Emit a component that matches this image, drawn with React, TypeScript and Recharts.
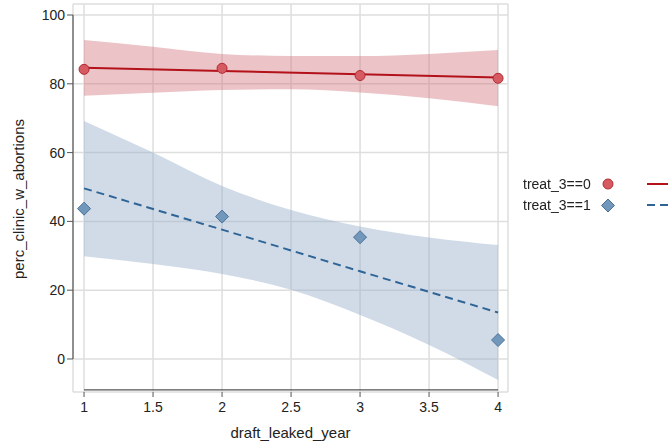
import {
  ComposedChart,
  Area,
  Line,
  Scatter,
  XAxis,
  YAxis,
  CartesianGrid,
  ReferenceLine,
} from "recharts"

// years used for the fitted line / confidence band
const bandYears = [1, 1.5, 2, 2.5, 3, 3.5, 4]
const band0Low = [76.5, 77.4, 78.2, 78.4, 77.5, 75.8, 73.5]
const band0High = [92.7, 90.8, 88.7, 88.1, 88.1, 88.7, 89.8]
const band1Low = [29.9, 27.6, 24.7, 20.1, 12.8, 4.1, -6.1]
const band1High = [69.2, 60.0, 50.3, 43.3, 38.5, 35.3, 33.1]

const obsYears = [1, 2, 3, 4]
const fit0 = [84.7, 83.7, 82.8, 81.8]
const fit1 = [49.6, 37.6, 25.5, 13.5]
const obs0 = [84.2, 84.5, 82.4, 81.6]
const obs1 = [43.7, 41.4, 35.4, 5.5]

const xTicks = [1, 1.5, 2, 2.5, 3, 3.5, 4]
const yTicks = [0, 20, 40, 60, 80, 100]
const seriesLabels = ["treat_3==0", "treat_3==1"]

const RED = "#b3121b"
const BLUE = "#2f6496"
const FONT = "'Liberation Sans', Arial, sans-serif"
const Y_MIN = -9.6
const X_MIN = 0.92

const data = bandYears.map((x, i) => {
  const j = obsYears.indexOf(x)
  return {
    x,
    band0: [band0Low[i], band0High[i]],
    band1: [band1Low[i], band1High[i]],
    fit0: j >= 0 ? fit0[j] : null,
    fit1: j >= 0 ? fit1[j] : null,
  }
})

const obs0Data = obsYears.map((x, i) => ({ x, y: obs0[i] }))
const obs1Data = obsYears.map((x, i) => ({ x, y: obs1[i] }))

const Dot = (props: any) => (
  <circle cx={props.cx} cy={props.cy} r={5} fill="#d65a61" stroke="#b22a30" strokeWidth={1} />
)

const Diamond = (props: any) => {
  const { cx, cy } = props
  const s = 6.5
  return (
    <polygon
      points={`${cx},${cy - s} ${cx + s},${cy} ${cx},${cy + s} ${cx - s},${cy}`}
      fill="#7197bb"
      stroke="#4d7299"
      strokeWidth={1}
    />
  )
}

function LegendBox() {
  return (
    <svg
      width={150}
      height={50}
      style={{ position: "absolute", left: 523, top: 172, fontFamily: FONT, overflow: "visible" }}
    >
      <text x={0} y={17} fontSize={14} fill="#222">{seriesLabels[0]}</text>
      <circle cx={85} cy={12} r={5} fill="#d65a61" stroke="#b22a30" />
      <line x1={124} x2={150} y1={12} y2={12} stroke={RED} strokeWidth={2} />
      <text x={0} y={38} fontSize={14} fill="#222">{seriesLabels[1]}</text>
      <polygon points="85,27 91.5,33.5 85,40 78.5,33.5" fill="#7197bb" stroke="#4d7299" />
      <line x1={124} x2={150} y1={33} y2={33} stroke={BLUE} strokeWidth={2} strokeDasharray="8 5" />
    </svg>
  )
}

export default function App() {
  return (
    <div style={{ position: "fixed", left: 0, top: 0, width: 668, height: 444, background: "#fff" }}>
      <ComposedChart
        width={668}
        height={444}
        data={data}
        margin={{ top: 4, right: 160, bottom: 0, left: 0 }}
      >
        <CartesianGrid stroke="#dedede" strokeWidth={1.5} />
        <XAxis
          dataKey="x"
          type="number"
          height={52}
          domain={[X_MIN, 4.072]}
          ticks={xTicks}
          allowDataOverflow
          axisLine={false}
          tickLine={{ stroke: "#555" }}
          tickSize={5}
          tick={{ fill: "#222", fontSize: 14, fontFamily: FONT, dy: 3 }}
          label={{
            value: "draft_leaked_year",
            position: "insideBottom",
            offset: 6,
            style: { fill: "#222", fontSize: 15, fontFamily: FONT },
          }}
        />
        <YAxis
          type="number"
          width={73}
          domain={[Y_MIN, 103.2]}
          ticks={yTicks}
          allowDataOverflow
          axisLine={false}
          tickLine={{ stroke: "#555" }}
          tickSize={6}
          tick={{ fill: "#222", fontSize: 14, fontFamily: FONT }}
          label={{
            value: "perc_clinic_w_abortions",
            content: () => (
              <text
                x={24}
                y={199}
                transform="rotate(-90 24 199)"
                textAnchor="middle"
                fill="#222"
                fontSize={15}
                fontFamily={FONT}
              >
                perc_clinic_w_abortions
              </text>
            ),
          }}
        />
        <Area
          dataKey="band0"
          type="monotone"
          stroke="none"
          fill="#d2737a"
          fillOpacity={0.42}
          isAnimationActive={false}
        />
        <Area
          dataKey="band1"
          type="monotone"
          stroke="none"
          fill="#97afca"
          fillOpacity={0.45}
          isAnimationActive={false}
        />
        <Line
          dataKey="fit0"
          stroke={RED}
          strokeWidth={2}
          dot={false}
          connectNulls
          isAnimationActive={false}
        />
        <Line
          dataKey="fit1"
          stroke={BLUE}
          strokeWidth={2}
          strokeDasharray="8 5"
          dot={false}
          connectNulls
          isAnimationActive={false}
        />
        <Scatter data={obs0Data} dataKey="y" shape={Dot} isAnimationActive={false} />
        <Scatter data={obs1Data} dataKey="y" shape={Diamond} isAnimationActive={false} />
        {/* axis lines only span the tick range, as in the original */}
        <ReferenceLine
          segment={[{ x: 1, y: -9.0 }, { x: 4, y: -9.0 }]}
          stroke="#555"
          strokeWidth={1.2}
          ifOverflow="visible"
        />
        <ReferenceLine
          segment={[{ x: X_MIN, y: 0 }, { x: X_MIN, y: 100 }]}
          stroke="#555"
          strokeWidth={1.2}
          ifOverflow="visible"
        />
      </ComposedChart>
      <LegendBox />
    </div>
  )
}
